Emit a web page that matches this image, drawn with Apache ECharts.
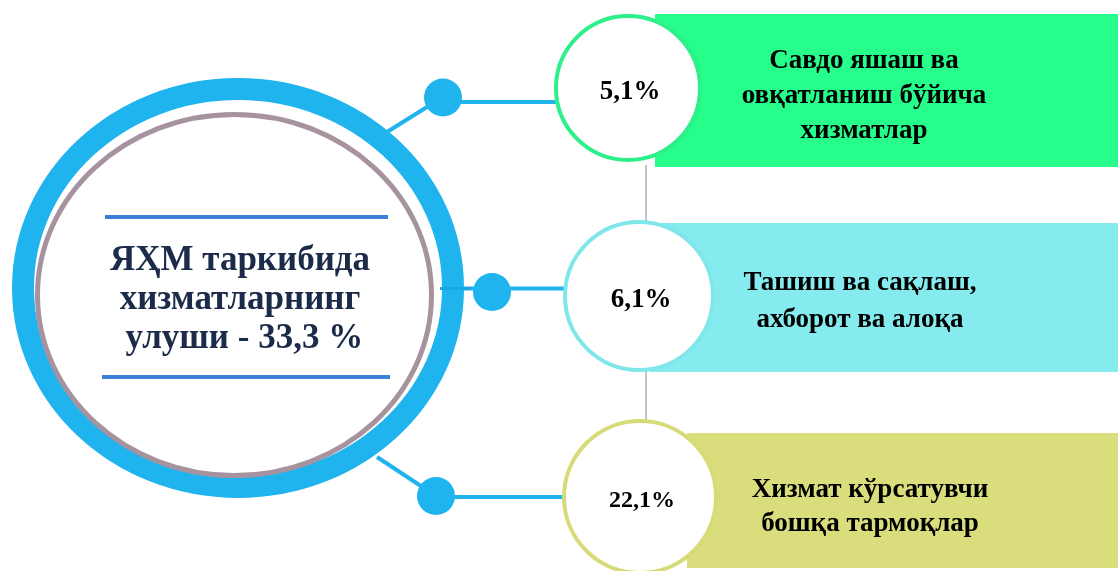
<!DOCTYPE html>
<html>
<head>
<meta charset="utf-8">
<script src="https://cdn.jsdelivr.net/npm/echarts@6/dist/echarts.min.js"></script>
<style>
  html, body { margin: 0; padding: 0; background: #fff; }
  #chartMain { width: 1118px; height: 571px; }
</style>
</head>
<body>
<div id="chartMain"></div>
<script>
// данные
const categories = [
    'Савдо яшаш ва\nовқатланиш бўйича\nхизматлар',
    'Ташиш ва сақлаш,\nахборот ва алоқа',
    'Хизмат кўрсатувчи\nбошқа тармоқлар'
];
const shares = [5.1, 6.1, 22.1];
const totalShare = 33.3;
const titleText = 'ЯҲМ таркибида\nхизматларнинг\n улуши - ';

// оформление каждой плашки (не данные)
const panelColors = ['#26fd8a', '#86ebee', '#d9dd7b'];
const ringColors = ['#2ef08a', '#7fe6ea', '#d7db77'];
const layout = [
    { cx: 628, dy: -1.5, r: 74, left: 655, top: -75.5, bottom: 77.5, pct: 27, ty: 7, lh: 35 },
    { cx: 639, dy: 3.5, r: 76, left: 650, top: -69.5, bottom: 79.5, pct: 27, ty: 9, lh: 37 },
    { cx: 640, dy: 1.5, r: 78, left: 687, top: -62.5, bottom: 72.5, pct: 24, ty: 12, lh: 34 }
];
const textCenterX = [864, 860, 870];

const fmt = (v) => v.toFixed(1).replace('.', ',');
const serif = '"Liberation Serif", "Times New Roman", serif';

let myChart = echarts.init(document.getElementById('chartMain'));

function renderItem(params, api) {
    let idx = api.value(1);
    let cy = api.coord([0, idx])[1];
    let l = layout[idx];
    return {
        type: 'group',
        children: [
            {
                type: 'rect',
                shape: { x: l.left, y: cy + l.top, width: 1118 - l.left + 5, height: l.bottom - l.top },
                style: { fill: panelColors[idx] }
            },
            {
                type: 'circle',
                shape: { cx: l.cx, cy: cy + l.dy, r: l.r - 2 },
                style: { fill: '#fff', stroke: ringColors[idx], lineWidth: 4 }
            },
            {
                type: 'text',
                style: {
                    text: fmt(api.value(0)) + '%',
                    x: l.cx + 2, y: cy + l.dy + 4,
                    align: 'center', verticalAlign: 'middle',
                    font: 'bold ' + l.pct + 'px ' + serif,
                    fill: '#000'
                }
            },
            {
                type: 'text',
                style: {
                    text: categories[idx],
                    x: textCenterX[idx], y: cy + l.ty,
                    align: 'center', verticalAlign: 'middle',
                    font: 'bold 27px ' + serif,
                    lineHeight: l.lh,
                    fill: '#000'
                }
            }
        ]
    };
}

const blue = '#20b4ef';

myChart.setOption({
    animation: false,
    grid: { left: 0, right: 0, top: 0, bottom: 0 },
    xAxis: { type: 'value', min: 0, max: 100, show: false },
    // позиция строк: индекс 0 -> y≈89.5, индекс 2 -> y≈495.5
    yAxis: { type: 'value', inverse: true, min: -0.441, max: 2.372, show: false },
    graphic: [
        // соединительные линии
        { type: 'line', z: 0, shape: { x1: 387, y1: 132, x2: 443, y2: 97 }, style: { stroke: blue, lineWidth: 4 } },
        { type: 'line', z: 0, shape: { x1: 443, y1: 102, x2: 560, y2: 102 }, style: { stroke: blue, lineWidth: 4 } },
        { type: 'line', z: 0, shape: { x1: 440, y1: 288.5, x2: 568, y2: 288.5 }, style: { stroke: blue, lineWidth: 4 } },
        { type: 'line', z: 0, shape: { x1: 377, y1: 457, x2: 436, y2: 496 }, style: { stroke: blue, lineWidth: 4 } },
        { type: 'line', z: 0, shape: { x1: 436, y1: 497, x2: 568, y2: 497 }, style: { stroke: blue, lineWidth: 4 } },
        { type: 'line', z: 0, shape: { x1: 646, y1: 165, x2: 646, y2: 222 }, style: { stroke: '#c3c3cc', lineWidth: 2 } },
        { type: 'line', z: 0, shape: { x1: 646, y1: 370, x2: 646, y2: 422 }, style: { stroke: '#c3c3cc', lineWidth: 2 } },
        // большой круг
        { type: 'ellipse', z: 1, shape: { cx: 238, cy: 288, rx: 215, ry: 199 }, style: { fill: '#fff', stroke: blue, lineWidth: 22 } },
        { type: 'ellipse', z: 1, shape: { cx: 234.5, cy: 295, rx: 197, ry: 180.5 }, style: { fill: 'none', stroke: '#a6939f', lineWidth: 5 } },
        { type: 'line', z: 1, shape: { x1: 440, y1: 288.5, x2: 470, y2: 288.5 }, style: { stroke: '#1aa6e0', lineWidth: 3 } },
        // точки
        { type: 'circle', z: 1, shape: { cx: 443, cy: 97.5, r: 19 }, style: { fill: blue } },
        { type: 'circle', z: 1, shape: { cx: 492, cy: 292, r: 19 }, style: { fill: blue } },
        { type: 'circle', z: 1, shape: { cx: 436, cy: 496, r: 19 }, style: { fill: blue } },
        // заголовок в центре
        { type: 'line', z: 1, shape: { x1: 105, y1: 217, x2: 388, y2: 217 }, style: { stroke: '#3a80d6', lineWidth: 4 } },
        { type: 'line', z: 1, shape: { x1: 102, y1: 377, x2: 390, y2: 377 }, style: { stroke: '#3a80d6', lineWidth: 4 } },
        {
            type: 'text', z: 1,
            style: {
                text: titleText + fmt(totalShare) + ' %',
                x: 240, y: 300,
                align: 'center', verticalAlign: 'middle',
                font: 'bold 35px ' + serif,
                lineHeight: 39,
                fill: '#1c2b49'
            }
        }
    ],
    series: [{
        type: 'custom',
        renderItem: renderItem,
        z: 5,
        data: shares.map((v, i) => [v, i])
    }]
});
</script>
</body>
</html>
